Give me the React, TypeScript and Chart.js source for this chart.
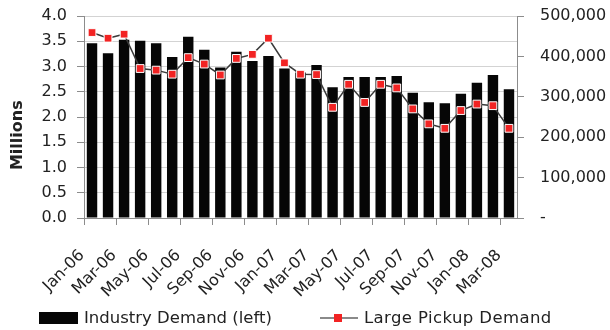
import React, { useEffect, useRef } from "react";
import { Chart, registerables } from "chart.js";

Chart.register(...registerables);

const months = [
  "Jan-06", "Feb-06", "Mar-06", "Apr-06", "May-06", "Jun-06", "Jul-06", "Aug-06", "Sep-06",
  "Oct-06", "Nov-06", "Dec-06", "Jan-07", "Feb-07", "Mar-07", "Apr-07", "May-07", "Jun-07",
  "Jul-07", "Aug-07", "Sep-07", "Oct-07", "Nov-07", "Dec-07", "Jan-08", "Feb-08", "Mar-08",
];

// Industry demand, millions (left axis)
const industryDemand = [
  3.46, 3.26, 3.53, 3.51, 3.46, 3.19, 3.59, 3.33, 2.98,
  3.29, 3.11, 3.21, 2.96, 2.88, 3.03, 2.59, 2.79, 2.79,
  2.79, 2.81, 2.48, 2.29, 2.27, 2.46, 2.68, 2.83, 2.55,
];

// Large pickup demand, units (right axis)
const largePickupDemand = [
  459000, 445000, 455000, 370000, 366000, 356000, 397000, 381000, 354000,
  395000, 405000, 445000, 384000, 356000, 355000, 274000, 331000, 286000,
  331000, 322000, 270000, 233000, 222000, 266000, 282000, 278000, 222000,
];

const leftAxisMax = 4;
const leftAxisStep = 0.5;
const rightAxisMax = 500000;
const rightAxisStep = 100000;

const seriesNames = ["Industry Demand (left)", "Large Pickup Demand"];
const leftAxisTitle = "Millions";

const FONT = "'DejaVu Sans', sans-serif";
const TEXT = "#222222";
const AXIS = "#8c8c8c";

// draws the left axis title a little below the axis middle, as in the source
const axisTitlePlugin = {
  id: "leftAxisTitle",
  afterDraw(chart: any) {
    const { ctx, chartArea } = chart;
    const yScale = chart.scales.y;
    ctx.save();
    ctx.translate(yScale.left + 17.5, chartArea.top + chartArea.height * 0.59);
    ctx.rotate(-Math.PI / 2);
    ctx.font = `bold 16px ${FONT}`;
    ctx.fillStyle = TEXT;
    ctx.textAlign = "center";
    ctx.textBaseline = "middle";
    ctx.fillText(leftAxisTitle, 0, 0);
    ctx.restore();
  },
};

export default function App() {
  const canvasRef = useRef<HTMLCanvasElement | null>(null);

  useEffect(() => {
    const canvas = canvasRef.current;
    if (!canvas) return;
    const chart = new Chart(canvas, {
      type: "bar",
      data: {
        labels: months,
        datasets: [
          {
            type: "line",
            label: seriesNames[1],
            data: largePickupDemand,
            yAxisID: "y1",
            borderColor: "#3a3a3a",
            borderWidth: 1.5,
            pointStyle: "rect",
            pointRadius: 5.5,
            pointBackgroundColor: "#f22323",
            pointBorderColor: "#ffffff",
            pointBorderWidth: 1,
            tension: 0,
            order: 0,
          } as any,
          {
            type: "bar",
            label: seriesNames[0],
            data: industryDemand,
            yAxisID: "y",
            backgroundColor: "#060606",
            borderWidth: 0,
            categoryPercentage: 1,
            barPercentage: 0.65,
            order: 1,
          } as any,
        ],
      },
      options: {
        responsive: true,
        maintainAspectRatio: false,
        animation: false,
        layout: { padding: { top: 16, bottom: 17, left: 0, right: 0 } },
        plugins: { legend: { display: false }, tooltip: { enabled: false } },
        scales: {
          x: {
            offset: true,
            grid: {
              offset: true,
              drawOnChartArea: false,
              drawTicks: true,
              tickLength: 7,
              tickWidth: 1,
              tickColor: (c: any) => (c.index % 2 === 0 ? AXIS : "rgba(0,0,0,0)"),
            },
            border: { display: true, color: AXIS, width: 1 },
            ticks: {
              autoSkip: false,
              minRotation: 45,
              maxRotation: 45,
              labelOffset: -10,
              padding: 21,
              color: TEXT,
              font: { family: FONT, size: 16 },
              callback: (_v: any, i: number) => (i % 2 === 0 ? months[i] : ""),
            },
            afterFit: (s: any) => {
              s.height = 95;
            },
          },
          y: {
            position: "left",
            min: 0,
            max: leftAxisMax,
            ticks: {
              stepSize: leftAxisStep,
              padding: 0,
              color: TEXT,
              font: { family: FONT, size: 16 },
              callback: (v: any) => Number(v).toFixed(1),
            },
            grid: {
              color: "#d3d3d3",
              tickColor: AXIS,
              tickLength: 17,
              tickBorderDash: [0, 10, 7, 100],
              lineWidth: 1,
            },
            border: { display: true, color: AXIS, width: 1 },
            afterFit: (s: any) => {
              s.width = 84;
            },
          },
          y1: {
            position: "right",
            min: 0,
            max: rightAxisMax,
            ticks: {
              stepSize: rightAxisStep,
              padding: 0,
              color: TEXT,
              font: { family: FONT, size: 16 },
              callback: (v: any) => (Number(v) === 0 ? "-" : Number(v).toLocaleString("en-US")),
            },
            grid: {
              drawOnChartArea: false,
              tickColor: AXIS,
              tickLength: 23,
              tickBorderDash: [6, 100],
            },
            border: { display: true, color: AXIS, width: 1 },
            afterFit: (s: any) => {
              s.width = 93;
            },
          },
        },
      },
      plugins: [axisTitlePlugin],
    });
    return () => chart.destroy();
  }, []);

  const legendText: React.CSSProperties = {
    position: "absolute",
    top: 307,
    fontFamily: FONT,
    fontSize: 16.5,
    lineHeight: "22px",
    color: TEXT,
    whiteSpace: "nowrap",
  };

  return (
    <div style={{ position: "absolute", left: 0, top: 0, width: 610, height: 330, background: "#fff" }}>
      <canvas ref={canvasRef} />
      <div style={{ position: "absolute", left: 39, top: 312, width: 39, height: 12, background: "#060606" }} />
      <div style={{ ...legendText, left: 84 }}>{seriesNames[0]}</div>
      <div style={{ position: "absolute", left: 320, top: 317, width: 38, height: 2, background: "#8a8a8a" }} />
      <div style={{ position: "absolute", left: 334, top: 314, width: 8, height: 8, background: "#f22323" }} />
      <div style={{ ...legendText, left: 364, letterSpacing: "0.4px" }}>{seriesNames[1]}</div>
    </div>
  );
}
